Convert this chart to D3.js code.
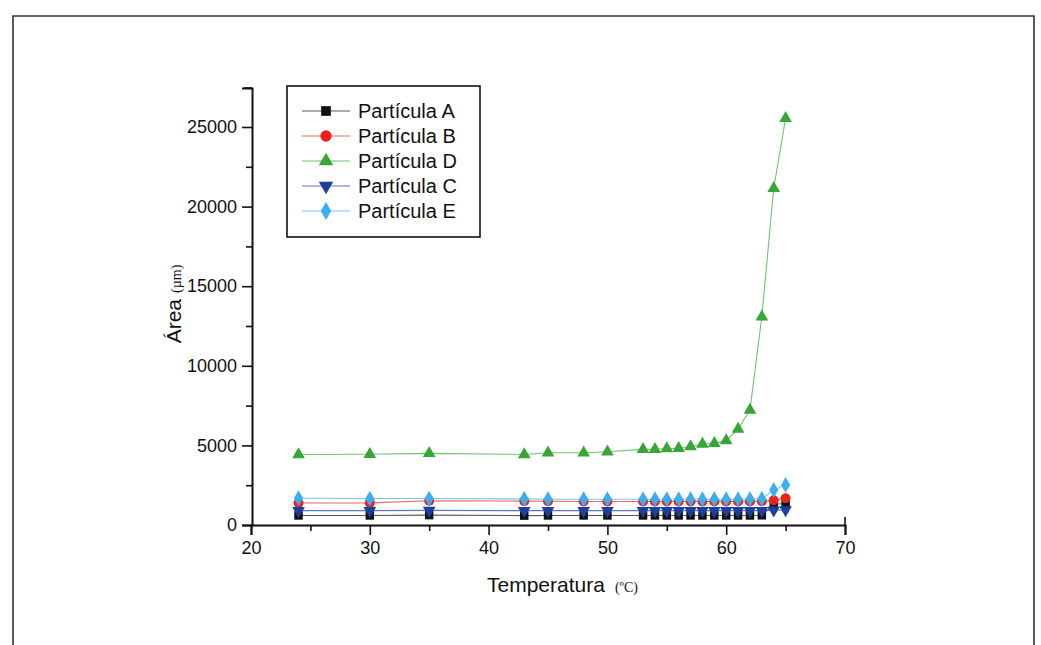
<!DOCTYPE html>
<html>
<head>
<meta charset="utf-8">
<script src="https://cdn.jsdelivr.net/npm/d3@7"></script>
<style>
  body { margin: 0; background: #fff; }
  svg { display: block; font-family: Arial, "Liberation Sans", sans-serif; }
</style>
</head>
<body>
<svg id="chart" width="1041" height="645"></svg>
<script>
// temperatures (ºC) where each particle was measured
var temps = [24, 30, 35, 43, 45, 48, 50, 53, 54, 55, 56, 57, 58, 59, 60, 61, 62, 63, 64, 65];

// area values per particle
var areaA = [600, 600, 620, 590, 600, 600, 600, 600, 600, 600, 600, 600, 600, 600, 600, 600, 600, 610, 1300, 1350];
var areaB = [1380, 1390, 1520, 1500, 1490, 1480, 1480, 1480, 1480, 1480, 1480, 1480, 1480, 1480, 1480, 1480, 1480, 1490, 1560, 1680];
var areaD = [4430, 4440, 4500, 4430, 4540, 4540, 4600, 4750, 4760, 4800, 4820, 4920, 5090, 5130, 5300, 6030, 7220, 13080, 21150, 25550];
var areaC = [900, 900, 920, 900, 900, 900, 900, 900, 900, 900, 900, 900, 900, 900, 900, 900, 900, 900, 930, 950];
var areaE = [1680, 1660, 1660, 1640, 1620, 1620, 1620, 1620, 1620, 1620, 1620, 1620, 1620, 1620, 1620, 1620, 1630, 1640, 2200, 2520];

var seriesNames = ["Partícula A", "Partícula B", "Partícula D", "Partícula C", "Partícula E"];
var seriesValues = [areaA, areaB, areaD, areaC, areaE];
var seriesColors = ["#111111", "#e8231b", "#36a736", "#1d3f9e", "#3caef0"];
var seriesSymbols = [d3.symbolSquare, d3.symbolCircle, d3.symbolTriangle, d3.symbolTriangle, d3.symbolDiamond];

var xTicks = [20, 30, 40, 50, 60, 70];
var yTicks = [0, 5000, 10000, 15000, 20000, 25000];

var svg = d3.select("#chart");

// scan frame
svg.append("path")
    .attr("d", "M13,650 L13,16 L1034,16 L1034,650")
    .attr("fill", "none").attr("stroke", "#333").attr("stroke-width", 1.6);

var x = d3.scaleLinear().domain([20, 70]).range([251, 845]);
var y = d3.scaleLinear().domain([0, 27450]).range([525, 88]);

// minor ticks
var minorX = d3.range(25, 70, 10);
var minorY = d3.range(2500, 27450, 5000);

svg.append("g").attr("transform", "translate(0,525)")
    .call(d3.axisBottom(x).tickValues(xTicks).tickSize(10).tickPadding(6).tickFormat(d3.format("d")));
svg.append("g").attr("transform", "translate(0,525)")
    .call(d3.axisBottom(x).tickValues(minorX).tickSize(6).tickFormat(""))
    .select(".domain").remove();

svg.append("g").attr("transform", "translate(252,0)")
    .call(d3.axisLeft(y).tickValues(yTicks).tickSize(10).tickPadding(5).tickFormat(d3.format("d")));
svg.append("g").attr("transform", "translate(252,0)")
    .call(d3.axisLeft(y).tickValues(minorY).tickSize(6).tickFormat(""))
    .select(".domain").remove();

svg.selectAll(".domain").attr("stroke", "#111").attr("stroke-width", 2);
svg.selectAll(".tick line").attr("stroke", "#111").attr("stroke-width", 1.6);
svg.selectAll(".tick text").attr("fill", "#111").style("font-size", "18px")
    .style("font-family", "Arial, 'Liberation Sans', sans-serif");

// axis end caps like the original
svg.append("line").attr("x1", x(70)).attr("x2", x(70)).attr("y1", 525).attr("y2", 517)
    .attr("stroke", "#111").attr("stroke-width", 1.6);
svg.append("line").attr("x1", 252).attr("x2", 244).attr("y1", y(27450)).attr("y2", y(27450))
    .attr("stroke", "#111").attr("stroke-width", 1.6);

// axis titles
var xt = svg.append("text").attr("x", 487).attr("y", 592).attr("fill", "#111");
xt.append("tspan").style("font-size", "21px").text("Temperatura");
xt.append("tspan").attr("dx", 10).style("font-size", "14px")
    .style("font-family", "'Liberation Serif', serif").text("(ºC)");

var yt = svg.append("text").attr("transform", "translate(181,304) rotate(-90)")
    .attr("text-anchor", "middle").attr("fill", "#111");
yt.append("tspan").style("font-size", "21px").text("Área");
yt.append("tspan").attr("dx", 6).style("font-size", "14px")
    .style("font-family", "'Liberation Serif', serif").text("(µm)");

// lines and markers
var line = d3.line().x(function (d) { return x(d[0]); }).y(function (d) { return y(d[1]); });

function symbolPath(i, size) {
    return d3.symbol().type(seriesSymbols[i]).size(size)();
}
var symSizes = [72, 78, 70, 70, 72];

for (var i = 0; i < seriesValues.length; i++) {
    var pts = temps.map(function (t, j) { return [t, seriesValues[i][j]]; });
    svg.append("path").datum(pts)
        .attr("d", line)
        .attr("fill", "none")
        .attr("stroke", seriesColors[i])
        .attr("stroke-opacity", 0.7)
        .attr("stroke-width", 1.1);
    svg.append("g").selectAll("path").data(pts).enter().append("path")
        .attr("d", symbolPath(i, symSizes[i]))
        .attr("transform", function (d) {
            var rot = i == 3 ? " rotate(180)" : "";
            return "translate(" + x(d[0]) + "," + y(d[1]) + ")" + rot;
        })
        .attr("fill", seriesColors[i]);
}

// legend
var legend = svg.append("g");
legend.append("rect").attr("x", 287).attr("y", 86).attr("width", 193).attr("height", 151)
    .attr("fill", "#fff").attr("stroke", "#111").attr("stroke-width", 1.6);
for (var k = 0; k < seriesNames.length; k++) {
    var ly = 111 + k * 25;
    legend.append("line").attr("x1", 302).attr("x2", 350).attr("y1", ly).attr("y2", ly)
        .attr("stroke", seriesColors[k]).attr("stroke-opacity", 0.7).attr("stroke-width", 1.1);
    legend.append("path").attr("d", symbolPath(k, symSizes[k] * 1.3))
        .attr("transform", "translate(326," + ly + ")" + (k == 3 ? " rotate(180)" : ""))
        .attr("fill", seriesColors[k]);
    legend.append("text").attr("x", 358).attr("y", ly + 7)
        .attr("fill", "#111").style("font-size", "20px").text(seriesNames[k]);
}
</script>
</body>
</html>
